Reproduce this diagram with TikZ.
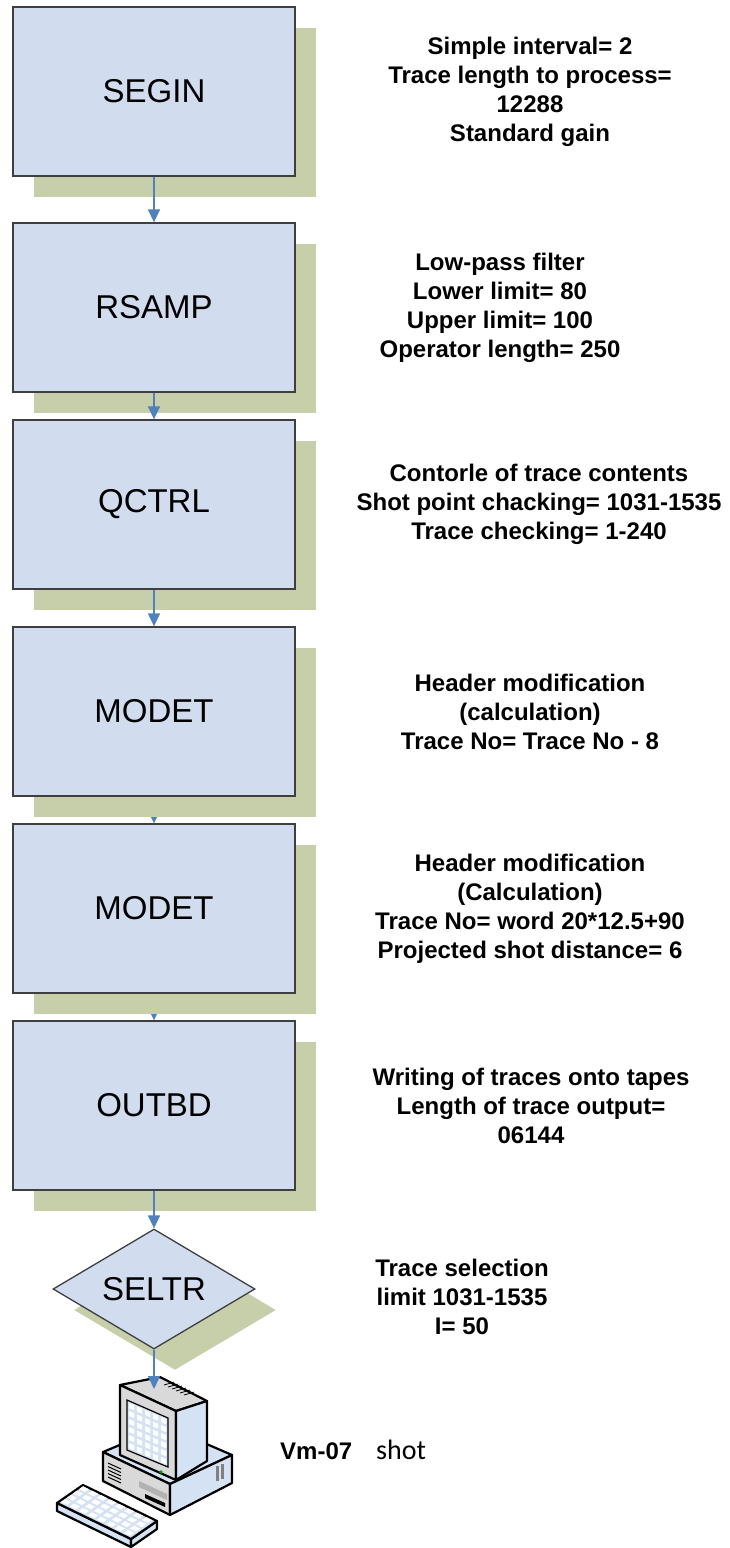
\documentclass[tikz,border=0pt]{standalone}
\usepackage{fontspec}
\setmainfont{Liberation Sans}
\newfontfamily\shotfont{Carlito}
\usetikzlibrary{arrows.meta}
\usetikzlibrary{shapes.geometric}
\usetikzlibrary{shadows}
\usetikzlibrary{backgrounds}

\definecolor{boxfill}{HTML}{D1DCEE}
\definecolor{boxline}{HTML}{3F3F3F}
\definecolor{shadowgreen}{HTML}{C6CEAA}
\definecolor{flowblue}{HTML}{4F81BD}
\definecolor{pcblue}{HTML}{D5E2F4}
\definecolor{pcgrey}{HTML}{D9D9D9}

\tikzset{module/.style = {rectangle, draw=boxline, fill=boxfill, line width=1.3pt,
                          minimum width=282pt, minimum height=169pt,
                          font=\fontsize{33}{40}\selectfont,
                          general shadow={fill=shadowgreen, shadow xshift=21pt, shadow yshift=-21pt}},
         select/.style = {diamond, aspect=1.68, inner sep=0pt, draw=boxline, fill=boxfill,
                          line width=1.3pt, minimum width=202pt, minimum height=120pt,
                          font=\fontsize{33}{40}\selectfont,
                          general shadow={fill=shadowgreen, shadow xshift=21pt, shadow yshift=-21pt}},
         params/.style = {align=center, font=\fontsize{24}{29}\selectfont\bfseries},
         flow/.style = {draw=flowblue, line width=1.5pt, -{Triangle[width=12pt, length=13pt]}},
         pc/.style = {draw=black, line width=2.2pt, line join=round}}

\begin{document}
\begin{tikzpicture}[x=1pt, y=-1pt]
    \useasboundingbox (0, 0) rectangle (730, 1548);

    % processing steps
    \node [module] (segin) at (154, 91.5) {SEGIN};
    \node [module] (rsamp) at (154, 307.5) {RSAMP};
    \node [module] (qctrl) at (154, 504.5) {QCTRL};
    \node [module] (modeta) at (154, 711.5) {MODET};
    \node [module] (modetb) at (154, 908.5) {MODET};
    \node [module] (outbd) at (154, 1105.5) {OUTBD};
    \node [select] (seltr) at (154, 1289) {SELTR};

    % parameters of each step
    \node [params] (seginnote) at (530, 91.5) {Simple interval= 2\\Trace length to process=\\12288\\Standard gain};
    \node [params] (rsampnote) at (500, 307.5) {Low-pass filter\\Lower limit= 80\\Upper limit= 100\\Operator length= 250};
    \node [params] (qctrlnote) at (539, 504.5) {Contorle of trace contents\\Shot point chacking= 1031-1535\\Trace checking= 1-240};
    \node [params] (modetanote) at (530, 711.5) {Header modification\\(calculation)\\Trace No= Trace No - 8};
    \node [params] (modetbnote) at (530, 908.5) {Header modification\\(Calculation)\\Trace No= word 20*12.5+90\\Projected shot distance= 6};
    \node [params] (outbdnote) at (531, 1105.5) {Writing of traces onto tapes\\Length of trace output=\\06144};
    \node [params] (seltrnote) at (462, 1297) {Trace selection\\limit 1031-1535\\I= 50};

    % workstation: system unit
    \filldraw [pc, fill=pcblue] (103, 1452) -- (165, 1426) -- (232, 1455) -- (170, 1484) -- cycle;
    \filldraw [pc, fill=pcgrey] (103, 1452) -- (170, 1484) -- (170, 1515) -- (103, 1481) -- cycle;
    \filldraw [pc, fill=pcblue] (170, 1484) -- (232, 1455) -- (232, 1483) -- (170, 1515) -- cycle;
    \foreach \i in {0, 1, 2, 3, 4}
      \draw [line width=1pt] (108, 1463 + 3.5*\i) -- +(13, 6);
    \fill [gray!60] (139, 1481) -- (167, 1494) -- (167, 1500) -- (139, 1487) -- cycle;
    \fill [black] (145, 1494) -- (165, 1503) -- (165, 1507) -- (145, 1498) -- cycle;
    \fill [gray] (216, 1466) rectangle (219, 1481);
    \fill [gray] (221, 1464) rectangle (224, 1479);

    % workstation: monitor
    \filldraw [pc, fill=pcgrey] (120, 1385) -- (160, 1377) -- (207, 1401) -- (176, 1411) -- cycle;
    \foreach \i in {0, 1, 2, 3, 4, 5}
      \draw [line width=0.8pt] (164 + 4*\i, 1385 + 2*\i) -- +(10, -3);
    \filldraw [pc, fill=pcgrey] (120, 1385) -- (176, 1411) -- (176, 1480) -- (120, 1455) -- cycle;
    \filldraw [pc, fill=pcblue] (176, 1411) -- (207, 1401) -- (207, 1461) -- (176, 1480) -- cycle;
    \filldraw [fill=pcblue, draw=black, line width=1.2pt]
      (127, 1400) -- (168, 1418) -- (168, 1467) -- (127, 1450) -- cycle;
    \foreach \i in {0, 1, 2, 3, 4}
      \foreach \j in {0, 1, 2, 3, 4, 5}
        \fill [white] (129 + 8*\i, 1403 + 3.5*\i + 8*\j) -- +(5, 2.2) -- +(5, 7.2) -- +(0, 5) -- cycle;
    \fill [green!60!black] (161, 1472) circle (1.8);

    % workstation: keyboard
    \filldraw [pc, fill=pcblue] (57, 1503) -- (131, 1539) -- (131, 1547) -- (57, 1511) -- cycle;
    \filldraw [pc, fill=pcblue] (131, 1539) -- (157, 1521) -- (157, 1529) -- (131, 1547) -- cycle;
    \filldraw [pc, fill=pcblue] (57, 1503) -- (83, 1485) -- (157, 1521) -- (131, 1539) -- cycle;
    \foreach \i in {0, ..., 7}
      \foreach \j in {0, 1, 2, 3}
        \fill [white] (61 + 9*\i + 6*\j, 1502 + 4.4*\i - 4.3*\j) -- +(6, 2.9) -- +(10, 0.1) -- +(4, -2.8) -- cycle;
    \coordinate (pc) at (154, 1389);

    \node [anchor=west, inner sep=0pt, font=\fontsize{24}{29}\selectfont\bfseries] (shot) at (280, 1450)
      {Vm-07\hspace{24pt}{\shotfont\mdseries\fontsize{28}{34}\selectfont shot}};

    % flow between the steps
    \draw [flow] (segin) -- (rsamp);
    \draw [flow] (rsamp) -- (qctrl);
    \draw [flow] (qctrl) -- (modeta);
    \begin{pgfonlayer}{background}
      \draw [flow] (modeta) -- (modetb);
      \draw [flow] (modetb) -- (outbd);
    \end{pgfonlayer}
    \draw [flow] (outbd) -- (seltr);
    \draw [flow] (seltr) -- (pc);
\end{tikzpicture}
\end{document}
